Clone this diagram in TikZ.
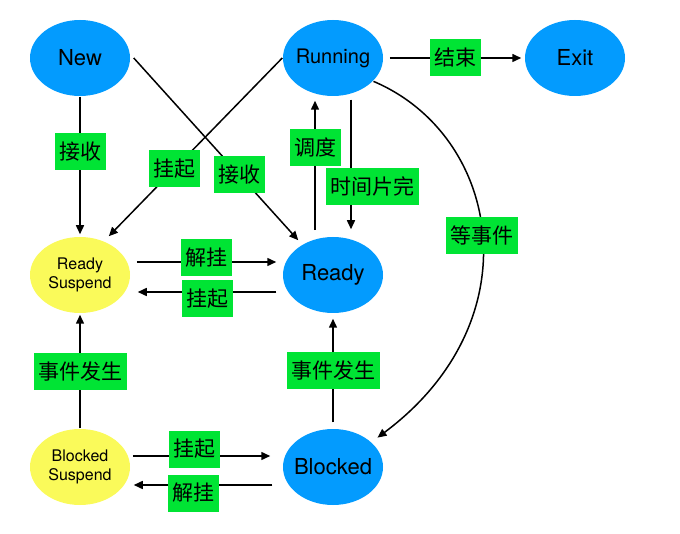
\documentclass[tikz,border=0pt]{standalone}
\usepackage{fontspec}
\setsansfont{TeX Gyre Heros}
\newfontfamily\cjk{Noto Sans CJK SC}
\usetikzlibrary{shapes.geometric, calc, arrows.meta}

\definecolor{procblue}{RGB}{3,155,254}
\definecolor{suspyellow}{RGB}{250,250,90}
\definecolor{labgreen}{RGB}{0,228,52}

\tikzset{
    proc/.style={ellipse, fill=procblue, minimum width=100pt, minimum height=76pt, inner sep=-14pt,
        font=\sffamily\fontsize{22}{24}\selectfont},
    susp/.style={ellipse, fill=suspyellow, minimum width=100pt, minimum height=76pt, inner sep=-14pt,
        align=center, font=\sffamily\fontsize{16}{19}\selectfont},
    lab/.style={fill=labgreen, minimum height=37pt, inner xsep=4.5pt, inner ysep=0pt,
        font=\cjk\fontsize{21}{22}\selectfont},
}

\begin{document}
\begin{tikzpicture}[x=1pt, y=-1pt, >={Triangle[length=9pt,width=8pt]}, line width=1.5pt]
    \useasboundingbox (0,0) rectangle (680,534);

    % States
    \node[proc] (new) at (80,58) {New};
    \node[proc, font=\sffamily\fontsize{20}{24}\selectfont] (running) at (333,58) {Running};
    \node[proc] (exit) at (575,58) {Exit};
    \node[susp] (rsusp) at (80,275) {Ready\\Suspend};
    \node[proc] (ready) at (333,275) {Ready};
    \node[susp] (bsusp) at (80,467) {Blocked\\Suspend};
    \node[proc] (blocked) at (333,467) {Blocked};

    % Admission
    \draw[->] (new.south) -- ($(rsusp.north)+(0,-2)$) node[lab, pos=0.4] {接收};
    \draw[->] ($(new.east)+(3,0)$) -- ($(ready.135)+(-4,-4)$) node[lab, pos=0.64] {接收};

    % Running
    \draw[->] (running.west) -- ($(rsusp.45)+(-2,-8)$) node[lab, pos=0.62] {挂起};
    \draw[->] ($(running.east)+(6,0)$) -- ($(exit.west)+(-3,0)$) node[lab, midway] {结束};
    \draw[->] ($(ready.north)+(-18,-6)$) -- ($(running.south)+(-18,4)$) node[lab, pos=0.64] {调度};
    \draw[->] ($(running.south)+(18,3)$) -- ($(ready.north)+(18,-7)$) node[lab, pos=0.67, xshift=21pt] {时间片完};
    \draw[->] (running.330) .. controls (500,135) and (535,320) .. ($(blocked.30)+(4,-6)$)
        node[lab, pos=0.5] {等事件};

    % Suspend and resume
    \draw[->] ($(rsusp.east)+(6,-13)$) -- ($(ready.west)+(-6,-13)$) node[lab, midway, yshift=4pt] {解挂};
    \draw[->] ($(ready.west)+(-6,17)$) -- ($(rsusp.east)+(7,17)$) node[lab, midway, yshift=-7pt] {挂起};
    \draw[->] ($(bsusp.east)+(2,-11)$) -- ($(blocked.west)+(-12,-11)$) node[lab, pos=0.45, yshift=7pt] {挂起};
    \draw[->] ($(blocked.west)+(-10,18)$) -- ($(bsusp.east)+(3,18)$) node[lab, pos=0.57, yshift=-8pt] {解挂};

    % Events
    \draw[->] (bsusp.north) -- ($(rsusp.south)+(0,1)$) node[lab, midway] {事件发生};
    \draw[->] ($(blocked.north)+(0,-6)$) -- ($(ready.south)+(0,5)$) node[lab, midway] {事件发生};
\end{tikzpicture}
\end{document}
